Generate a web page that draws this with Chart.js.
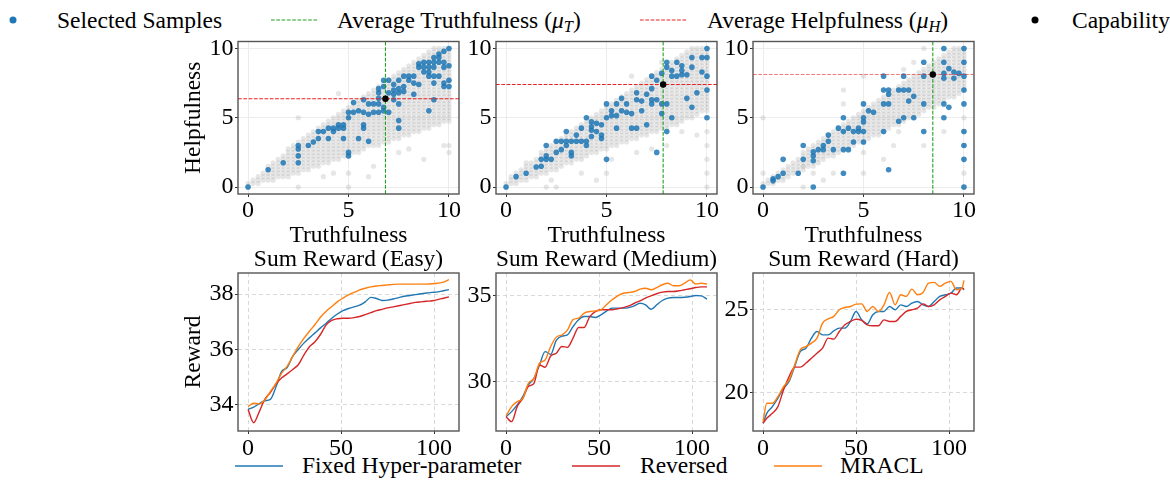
<!DOCTYPE html>
<html>
<head>
<meta charset="utf-8">
<script src="https://cdn.jsdelivr.net/npm/chart.js@4.4.1/dist/chart.umd.min.js"></script>
<style>
html,body{margin:0;padding:0;background:#fff;}
body{width:1170px;height:480px;position:relative;overflow:hidden;font-family:"Liberation Serif","Times New Roman",serif;color:#000;}
canvas{position:absolute;}
.lt{position:absolute;font-size:23.5px;line-height:1;white-space:nowrap;}
.lt sub{font-size:0.7em;vertical-align:-0.25em;line-height:0;}
svg.lg{position:absolute;left:0;top:0;}
</style>
</head>
<body>
<svg class="lg" width="1170" height="480">
  <circle cx="13" cy="20" r="3.5" fill="#1f77b4"/>
  <line x1="271" y1="20" x2="318" y2="20" stroke="#22a022" stroke-width="1.2" stroke-dasharray="3.7 1.6"/>
  <line x1="640" y1="20" x2="687" y2="20" stroke="#e82020" stroke-width="1.2" stroke-dasharray="3.7 1.6"/>
  <circle cx="1035" cy="20" r="3.5" fill="#000"/>
  <line x1="235" y1="466" x2="283" y2="466" stroke="#1f77b4" stroke-width="1.5"/>
  <line x1="572" y1="466" x2="620" y2="466" stroke="#d62728" stroke-width="1.5"/>
  <line x1="774" y1="466" x2="822" y2="466" stroke="#ff7f0e" stroke-width="1.5"/>
</svg>
<div class="lt" style="left:57px;top:9px">Selected Samples</div>
<div class="lt" style="left:337px;top:9px">Average Truthfulness (<i>μ<sub>T</sub></i>)</div>
<div class="lt" style="left:707px;top:9px">Average Helpfulness (<i>μ<sub>H</sub></i>)</div>
<div class="lt" style="left:1072px;top:9px">Capability</div>
<div class="lt" style="left:302px;top:454px">Fixed Hyper-parameter</div>
<div class="lt" style="left:640px;top:454px">Reversed</div>
<div class="lt" style="left:840px;top:454px">MRACL</div>

<canvas id="c1"></canvas>
<canvas id="c2"></canvas>
<canvas id="c3"></canvas>
<canvas id="c4"></canvas>
<canvas id="c5"></canvas>
<canvas id="c6"></canvas>

<script>
// ---------------- DATA ----------------
// scatter panels: x columns of the grey sample cloud
const gridX = [0,0.25,0.5,0.75,1,1.25,1.5,1.75,2,2.25,2.5,2.75,3,3.25,3.5,3.75,4,4.25,4.5,4.75,5,5.25,5.5,5.75,6,6.25,6.5,6.75,7,7.25,7.5,7.75,8,8.25,8.5,8.75,9,9.25,9.5,9.75,10];
const scatterTicks = [0, 5, 10];

// panel 1
const p1GrayLo = [0,0.25,0.25,0.5,0.5,0.5,0.75,0.75,0.75,1.0,1.0,1.25,1.25,1.5,1.5,1.75,1.75,2.0,2.0,2.25,2.25,2.5,2.5,2.75,3.0,3.0,3.0,3.25,3.25,3.5,3.5,3.75,3.75,4.0,4.0,4.25,4.25,4.5,4.5,4.75,4.75];
const p1GrayHi = [0.25,0.5,0.75,1.0,1.5,1.75,2.0,2.25,2.75,3.0,3.25,3.5,3.75,4.0,4.25,4.5,4.75,5.0,5.25,5.5,5.75,6.0,6.25,6.5,6.75,7.0,7.25,7.5,7.75,8.0,8.25,8.5,8.75,9.0,9.25,9.5,9.75,10,10,10,10];
const p1GrayExtra = [[2.5,0],[5,0],[2.5,5],[5,1],[6.25,1.5],[7.5,2.5],[8.75,2],[10,3],[10,2.5],[4.25,1],[3.75,0.75],[8,2.75],[9.75,3],[4.5,6.75],[6,0.75]];
const p1Selected = [[0,0],[1,1.25],[1.75,1.75],[2.5,3],[2.5,2.75],[2.5,2.25],[2.5,1.75],[3,3],[3.25,3.25],[3.5,3.5],[3.5,4],[3.75,4],[4,4.25],[4,3.5],[4.25,4],[4.25,4.25],[4.5,4.5],[4.5,4.25],[4.75,4.5],[4.75,4.25],[4.75,3.5],[5,5],[5,5.4],[5,2.5],[5,2.25],[5.25,5.4],[5.25,6.1],[5.5,5.5],[5.5,3.5],[5.75,6.3],[5.75,5.4],[5.75,4.5],[5.75,4.25],[6,6],[6,5.25],[6,3.3],[6.25,6],[6.25,5.4],[6.5,7.1],[6.5,6.8],[6.5,6.4],[6.5,6],[6.5,5.4],[6.75,7.7],[6.75,7.25],[6.75,5.75],[6.75,5.5],[7,7.7],[7,6.8],[7,5.4],[7.25,7.4],[7.25,7],[7.25,6.7],[7.25,6.3],[7.5,7.7],[7.5,7.1],[7.5,6.8],[7.5,6],[7.5,4.8],[7.5,4.25],[7.75,8],[7.75,7.25],[7.75,6.9],[8,8],[8,7.7],[8.25,8],[8.25,7.5],[8.25,6.7],[8.5,8.9],[8.5,8.65],[8.5,7.4],[8.75,9],[8.75,8.65],[8.75,8.3],[9,9],[9,8.65],[9,8.3],[9,8],[9,5.5],[9.25,9.35],[9.25,9],[9.25,8.65],[9.25,8],[9.25,7.5],[9.25,6.3],[9.5,9.6],[9.5,9.35],[9.5,9],[9.5,8],[9.75,9.8],[9.75,9],[9.75,8.65],[9.75,7.5],[9.75,7.25],[10,10],[10,8.75],[10,7.7],[10,7.25]];
const p1MuT = 6.84, p1MuH = 6.37;

// panel 2
const p2GrayLo = [0,0.25,0.25,0.5,0.5,0.75,0.75,1.0,1.0,1.25,1.25,1.5,1.75,1.75,2.0,2.0,2.25,2.5,2.5,2.75,2.75,3.0,3.0,3.25,3.25,3.5,3.5,3.75,3.75,4.0,4.0,4.25,4.25,4.5,4.5,4.75,5.0,5.0,5.25,5.5,5.5];
const p2GrayHi = [0.25,0.75,1.0,1.25,1.5,1.75,2.0,2.5,2.75,3.0,3.25,3.5,3.75,4.0,4.25,4.5,4.75,5.0,5.25,5.5,5.75,6.0,6.25,6.5,6.75,7.0,7.25,7.5,7.75,8.0,8.25,8.5,8.75,9.0,9.25,9.5,9.75,10,10,10,10];
const p2GrayExtra = [[2,0],[2.5,0],[1,1.75],[3.75,1],[4.5,0.5],[5.25,2],[6.25,8],[6.5,2.5],[7.25,2.75],[8,3],[8.75,4],[10,0],[10,1],[10,2],[10,3],[10,4],[5,1],[7.75,9],[2.25,0.5],[9.5,3.75]];
const p2Selected = [[0,0],[0.5,0.75],[1,1],[1.5,1.45],[1.75,2],[1.75,1.5],[2,3],[2,2.25],[2,2],[2.25,2],[2.5,2.5],[2.5,3.3],[2.75,3.3],[2.75,2.7],[3,4],[3,3.3],[3,3],[3.25,3.3],[3.25,2.5],[3.25,2.25],[3.5,3.3],[3.5,3.75],[3.75,4.25],[3.75,3.3],[4,5],[4,3.3],[4,3],[4.25,4.7],[4.25,4.35],[4.25,4.1],[4.25,3.65],[4.5,4.6],[4.5,4],[4.75,4.5],[4.75,3.75],[4.75,3.5],[5,6],[5,5],[5,2],[5.25,5.5],[5.25,5.15],[5.5,6],[5.5,5.15],[5.5,4.25],[5.75,6.4],[5.75,5.5],[6,6],[6,5.4],[6.25,5.3],[6.25,4.25],[6.5,6.8],[6.5,6.3],[6.5,4.25],[6.75,6.2],[6.75,5.5],[7,6.7],[7,4.5],[7.25,8],[7.25,7.1],[7.25,6.3],[7.25,6],[7.5,7.7],[7.5,6.3],[7.5,2.5],[7.75,8.2],[7.75,6],[7.75,5.3],[8,9],[8,8.65],[8,6],[8,4],[8.25,8.4],[8.25,8],[8.25,5],[8.5,9],[8.5,8],[8.75,8.75],[8.75,8.4],[8.75,8.1],[9,8.1],[9,6.4],[9.25,9.35],[9.25,8.65],[9.25,5.75],[9.5,6.8],[9.75,9.35],[9.75,8.3],[10,10],[10,9.35],[10,8],[10,7],[10,5]];
const p2MuT = 7.82, p2MuH = 7.40;

// panel 3
const p3GrayLo = [0,0.25,0.25,0.5,0.5,0.75,1.0,1.0,1.25,1.5,1.5,1.75,2.0,2.25,2.25,2.5,2.75,2.75,3.0,3.25,3.25,3.5,3.75,3.75,4.0,4.25,4.5,4.5,4.75,5.0,5.0,5.25,5.5,5.75,5.75,6.0,6.25,6.5,6.5,6.75,7.0];
const p3GrayHi = [0.25,0.5,0.75,1.0,1.25,1.5,1.75,2.0,2.5,2.75,3.0,3.25,3.5,3.75,4.0,4.25,4.5,4.75,5.0,5.25,5.5,5.75,6.0,6.25,6.5,6.75,7.0,7.25,7.5,7.75,8.0,8.25,8.5,8.75,9.0,9.25,9.5,9.75,10,10,10];
const p3GrayExtra = [[0,1],[0,5],[2,0],[2,1.5],[2.5,1],[3.5,1],[4,7],[4,6],[5,8],[5,1],[5,2.5],[6,2],[6.5,3],[7,8.5],[7.5,9],[8,10],[8,3],[9,4],[10,5],[10,4],[10,3],[10,2],[10,1],[10,0],[6.75,4],[3,0.5]];
const p3Selected = [[0,0],[0.5,0.6],[0.5,0.45],[0.75,0.75],[1,1],[1,2],[1.75,1],[2,3],[2,2],[2.5,2.55],[2.5,2.25],[2.5,1.9],[2.5,0],[2.75,2.7],[3,3],[3,2.7],[3.25,3.75],[3.25,3.3],[3.5,2.7],[3.75,4.25],[4,5],[4,4],[4,2.7],[4,1],[4.25,4.25],[4.25,2.7],[4.5,4],[4.5,3.25],[4.75,4.25],[4.75,4],[5,6],[5,5],[5,4.7],[5,4],[5,3.25],[5.25,5.5],[5.5,5.4],[6,8],[6,7],[6,6],[6,4],[6.25,7],[6.25,6.7],[6.25,6],[6.25,1.25],[6.75,7],[6.75,4.75],[7,8],[7,7],[7,5],[7.25,7],[7.25,6.2],[7.5,6.55],[7.5,5],[8,9],[8,8],[8,6],[8,4],[9,10],[9,9],[9,8.2],[9,7.85],[9,6],[9,5],[9.25,8.55],[9.25,5.75],[9.5,8.3],[9.5,7.85],[9.75,8.2],[10,10],[10,9],[10,8],[10,7],[10,6],[10,4],[10,3],[10,2],[10,0]];
const p3MuT = 8.45, p3MuH = 8.12;

// reward curves
const easyX = [0,3,6,9,12,15,18,21,24,27,30,33,36,39,42,45,48,51,54,57,60,63,66,69,72,75,78,81,84,87,90,93,96,99,102,105,108];
const easyFixed = [33.84,33.92,34.05,34.15,34.2,34.65,35.2,35.35,35.75,36.0,36.23,36.42,36.6,36.78,36.95,37.13,37.28,37.4,37.48,37.54,37.6,37.72,37.88,37.84,37.77,37.78,37.82,37.87,37.92,37.95,37.98,38.01,38.04,38.06,38.08,38.12,38.16];
const easyReversed = [33.84,33.36,33.75,34.2,34.45,34.75,34.97,35.12,35.28,35.45,35.8,36.1,36.28,36.55,36.89,37.05,37.11,37.13,37.13,37.15,37.19,37.26,37.33,37.4,37.45,37.5,37.54,37.58,37.62,37.66,37.7,37.72,37.74,37.76,37.8,37.85,37.9];
const easyMRACL = [33.94,34.06,34.04,34.18,34.48,34.78,35.14,35.39,35.75,36.1,36.4,36.66,36.9,37.17,37.38,37.55,37.72,37.85,37.97,38.06,38.15,38.21,38.26,38.29,38.31,38.33,38.35,38.36,38.36,38.36,38.36,38.36,38.36,38.37,38.39,38.43,38.52];
const easyTicks = [34, 36, 38];

const medX = [0,3,6,9,12,15,18,21,24,27,30,33,36,39,42,45,48,51,54,57,60,63,66,69,72,75,78,81,84,87,90,93,96,99,102,105,108];
const medFixed = [27.99,28.28,28.67,29.15,29.83,30.2,30.98,31.75,31.6,32.4,32.65,32.72,33.2,33.6,33.78,33.78,33.73,33.88,34.1,34.27,34.27,34.27,34.3,34.4,34.55,34.46,34.2,34.46,34.71,34.85,34.88,34.88,34.9,34.94,35.0,34.98,34.79];
const medReversed = [27.99,27.7,28.57,29.05,29.73,29.92,30.98,30.85,31.5,31.66,32.05,32.0,32.53,33.15,33.15,33.78,34.07,34.17,34.17,34.17,34.23,34.3,34.4,34.55,34.69,34.85,34.98,35.1,35.19,35.23,35.23,35.27,35.33,35.39,35.46,35.5,35.5];
const medMRACL = [28.03,28.57,28.86,29.05,29.92,30.2,31.08,31.27,32.05,32.59,32.72,33.0,33.6,33.69,33.98,34.07,34.11,34.17,34.46,34.75,34.98,35.13,35.17,35.23,35.37,35.42,35.33,35.46,35.62,35.71,35.56,35.56,35.71,35.9,35.66,35.71,35.66];
const medTicks = [30, 35];

const hardX = [0,2,5,8,11,14,17,20,23,26,29,32,35,38,41,44,47,50,53,56,59,62,65,68,71,74,77,80,83,86,89,92,95,98,101,104,107,108];
const hardFixed = [18.12,18.72,19.13,19.64,20.24,20.65,21.56,22.47,22.67,23.28,23.68,23.48,23.48,23.72,23.89,23.89,24.29,24.9,24.39,24.15,24.7,24.9,24.9,25.2,25.0,25.3,25.2,25.4,25.5,25.3,25.2,25.5,25.81,25.91,26.01,26.32,26.32,26.2];
const hardReversed = [18.12,18.42,18.72,19.13,20.14,20.95,21.52,21.52,21.76,22.06,22.37,22.67,23.28,23.22,23.68,24.09,24.29,24.43,24.35,24.09,24.03,24.03,24.39,24.29,24.29,24.6,24.9,25.0,25.1,25.36,25.2,25.3,25.6,25.81,26.01,25.91,26.32,26.26];
const hardMRACL = [18.22,19.33,19.33,19.74,20.34,20.75,21.66,22.57,22.77,22.98,23.28,24.19,24.45,24.6,25.0,25.14,25.2,25.34,25.36,24.9,25.2,24.9,25.3,26.05,25.3,25.91,25.81,26.25,25.91,26.05,26.62,26.66,26.42,26.62,26.72,26.21,26.32,26.78];
const hardTicks = [20, 25];
const stepTicks = [0, 50, 100];

// ---------------- STYLE / LAYOUT ----------------
const FONT = "'Liberation Serif','Times New Roman',serif";
Chart.defaults.font.family = FONT;
Chart.defaults.color = '#000';

const AREA_W = 221, AREA_H = 158, YAX = 63, PADR = 8;
const SC_MIN = -0.5, SC_MAX = 10.5;
const BLUE = '#1f77b4', RED = '#d62728', ORANGE = '#ff7f0e';

const frame = {
  id: 'frame',
  afterDatasetsDraw(chart) {
    const {ctx, chartArea: a} = chart;
    ctx.save();
    ctx.strokeStyle = '#555';
    ctx.lineWidth = 1.4;
    ctx.strokeRect(a.left, a.top, a.right - a.left, a.bottom - a.top);
    ctx.restore();
  }
};

function placeCanvas(id, left, top, w, h) {
  const c = document.getElementById(id);
  c.width = w; c.height = h;
  c.style.left = left + 'px'; c.style.top = top + 'px';
  c.style.width = w + 'px'; c.style.height = h + 'px';
  return c;
}
const pts = arr => arr.map(([x, y]) => ({x, y}));

function scatterPanel(id, areaLeft, lo, hi, extra, selected, muT, muH, yTitle, muHColor) {
  const top = 28, padTop = 8, xh = 56;
  const c = placeCanvas(id, areaLeft - YAX, top, YAX + AREA_W + PADR, padTop + AREA_H + xh);
  const gray = [];
  gridX.forEach((x, i) => { for (let y = lo[i]; y <= hi[i] + 1e-9; y += 0.25) gray.push({x, y}); });
  extra.forEach(([x, y]) => gray.push({x, y}));
  new Chart(c, {
    type: 'scatter',
    data: {datasets: [
      {data: [{x: muT, y: muH}], pointBackgroundColor: '#000', pointBorderWidth: 0, pointRadius: 3.2, order: 0},
      {data: [{x: muT, y: SC_MIN}, {x: muT, y: SC_MAX}], showLine: true, borderColor: '#22a022', borderWidth: 1.1, borderDash: [3.7, 1.6], pointRadius: 0, order: 1},
      {data: [{x: SC_MIN, y: muH}, {x: SC_MAX, y: muH}], showLine: true, borderColor: muHColor, borderWidth: 1.1, borderDash: [3.7, 1.6], pointRadius: 0, order: 1},
      {data: pts(selected), pointBackgroundColor: 'rgba(31,119,180,0.85)', pointBorderWidth: 0, pointRadius: 2.8, order: 2},
      {data: gray, pointBackgroundColor: 'rgba(165,165,165,0.28)', pointBorderWidth: 0, pointRadius: 2.6, order: 3}
    ]},
    options: {
      responsive: false, animation: false, devicePixelRatio: 1, events: [],
      layout: {padding: {top: padTop, right: PADR, left: 0, bottom: 0}},
      plugins: {legend: {display: false}, tooltip: {enabled: false}},
      scales: {
        x: {
          type: 'linear', min: SC_MIN, max: SC_MAX,
          afterFit: s => { s.height = xh; },
          afterBuildTicks: s => { s.ticks = scatterTicks.map(v => ({value: v})); },
          grid: {color: '#ececec', lineWidth: 1, drawTicks: true, tickLength: 3, tickColor: '#333', tickWidth: 1, tickBorderDash: []},
          border: {display: false},
          ticks: {font: {size: 24, lineHeight: 1}, padding: 2, maxRotation: 0, autoSkip: false, color: '#000'},
          title: {display: true, text: 'Truthfulness', font: {size: 23.5, lineHeight: 1.2}, padding: {top: 0, bottom: 0}, color: '#000'}
        },
        y: {
          type: 'linear', min: SC_MIN, max: SC_MAX,
          afterFit: s => { s.width = YAX; },
          afterBuildTicks: s => { s.ticks = scatterTicks.map(v => ({value: v})); },
          grid: {color: '#ececec', lineWidth: 1, drawTicks: true, tickLength: 3, tickColor: '#333', tickWidth: 1, tickBorderDash: []},
          border: {display: false},
          ticks: {font: {size: 24, lineHeight: 1}, padding: 1.5, autoSkip: false, color: '#000'},
          title: {display: !!yTitle, text: yTitle || '', font: {size: 23.5, lineHeight: 1.2}, padding: {top: 4.4, bottom: 0}, color: '#000'}
        }
      }
    },
    plugins: [frame]
  });
}

function linePanel(id, areaLeft, xs, fixed, rev, mracl, yMin, yMax, yTicks, title, yTitle) {
  const top = 247, titleH = 26, xh = 30;
  const c = placeCanvas(id, areaLeft - YAX, top, YAX + AREA_W + PADR, titleH + AREA_H + xh);
  const mk = (ys, color, order) => ({
    data: xs.map((x, i) => ({x, y: ys[i]})), borderColor: color, borderWidth: 1.4,
    pointRadius: 0, cubicInterpolationMode: 'monotone', fill: false, order
  });
  new Chart(c, {
    type: 'line',
    data: {datasets: [mk(fixed, BLUE, 3), mk(rev, RED, 2), mk(mracl, ORANGE, 1)]},
    options: {
      responsive: false, animation: false, devicePixelRatio: 1, events: [],
      layout: {padding: {top: 0, right: PADR, left: 0, bottom: 0}},
      plugins: {
        legend: {display: false}, tooltip: {enabled: false},
        title: {display: true, fullSize: false, text: title, font: {size: 23.5, lineHeight: 26 / 23.5, weight: 'normal'}, padding: 0, color: '#000'}
      },
      scales: {
        x: {
          type: 'linear', min: -5.4, max: 113.4,
          afterFit: s => { s.height = xh; },
          afterBuildTicks: s => { s.ticks = stepTicks.map(v => ({value: v})); },
          grid: {color: '#d9d9d9', lineWidth: 1, drawTicks: true, tickLength: 3, tickColor: '#333', tickWidth: 1, tickBorderDash: []},
          border: {display: false, dash: [4, 3]},
          ticks: {font: {size: 24, lineHeight: 1}, padding: 2.5, maxRotation: 0, autoSkip: false, color: '#000'}
        },
        y: {
          type: 'linear', min: yMin, max: yMax,
          afterFit: s => { s.width = YAX; },
          afterBuildTicks: s => { s.ticks = yTicks.map(v => ({value: v})); },
          grid: {color: '#d9d9d9', lineWidth: 1, drawTicks: true, tickLength: 3, tickColor: '#333', tickWidth: 1, tickBorderDash: []},
          border: {display: false, dash: [4, 3]},
          ticks: {font: {size: 24, lineHeight: 1}, padding: 1.5, autoSkip: false, color: '#000'},
          title: {display: !!yTitle, text: yTitle || '', font: {size: 23.5, lineHeight: 1.2}, padding: {top: 4.4, bottom: 0}, color: '#000'}
        }
      }
    },
    plugins: [frame]
  });
}

scatterPanel('c1', 238, p1GrayLo, p1GrayHi, p1GrayExtra, p1Selected, p1MuT, p1MuH, 'Helpfulness', '#e82020');
scatterPanel('c2', 496, p2GrayLo, p2GrayHi, p2GrayExtra, p2Selected, p2MuT, p2MuH, null, '#e82020');
scatterPanel('c3', 753, p3GrayLo, p3GrayHi, p3GrayExtra, p3Selected, p3MuT, p3MuH, null, 'rgba(232,32,32,0.6)');
linePanel('c4', 238, easyX, easyFixed, easyReversed, easyMRACL, 33.06, 38.76, easyTicks, 'Sum Reward (Easy)', 'Reward');
linePanel('c5', 496, medX, medFixed, medReversed, medMRACL, 27.16, 36.3, medTicks, 'Sum Reward (Medium)', null);
linePanel('c6', 753, hardX, hardFixed, hardReversed, hardMRACL, 17.65, 27.23, hardTicks, 'Sum Reward (Hard)', null);
</script>
</body>
</html>
